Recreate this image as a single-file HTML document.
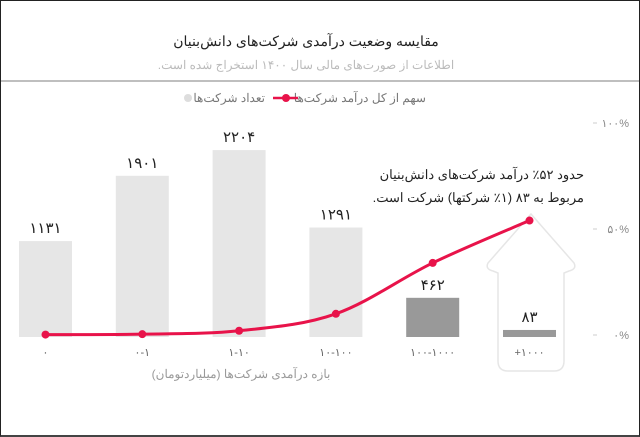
<!DOCTYPE html>
<html><head><meta charset="utf-8">
<style>
html,body{margin:0;padding:0;background:#fff;}
#frame{position:relative;width:638px;height:434px;border:1px solid #222;border-bottom:2px solid #444;overflow:hidden;font-family:"Liberation Sans","Noto Sans CJK SC",sans-serif;}
svg text{font-family:"Liberation Sans","Noto Sans CJK SC",sans-serif;}
</style></head>
<body>
<div id="frame">
<svg id="chart" width="638" height="434">
  <text x="305" y="45" text-anchor="middle" font-size="14" fill="#222" direction="rtl">مقایسه وضعیت درآمدی شرکت‌های دانش‌بنیان</text>
  <text x="305" y="68" text-anchor="middle" font-size="12" fill="#bbb" direction="rtl">اطلاعات از صورت‌های مالی سال ۱۴۰۰ استخراج شده است.</text>
  <line x1="0" y1="80" x2="638" y2="80" stroke="#aaa" stroke-width="1.5"/>
  <g>
    <text x="425" y="101" text-anchor="start" font-size="12" fill="#777" direction="rtl">سهم از کل درآمد شرکت‌ها</text>
    <line x1="272" y1="97" x2="297" y2="97" stroke="#e8134a" stroke-width="2.5"/>
    <circle cx="285" cy="97" r="4" fill="#e8134a"/>
    <text x="264" y="101" text-anchor="start" font-size="12" fill="#777" direction="rtl">تعداد شرکت‌ها</text>
    <circle cx="187" cy="97" r="4" fill="#ddd"/>
  </g>
  <path d="M530,213 L573,262 Q576,268 568,270 L563,272 L563,360 Q563,370 553,370 L507,370 Q497,370 497,360 L497,272 L492,270 Q484,268 487,262 Z" fill="none" stroke="#e6e6e6" stroke-width="1.5"/>
  <text x="583" y="178" text-anchor="start" font-size="13" fill="#222" direction="rtl">حدود ۵۲٪ درآمد شرکت‌های دانش‌بنیان</text>
  <text x="583" y="201" text-anchor="start" font-size="13" fill="#222" direction="rtl">مربوط به ۸۳ (۱٪ شرکتها) شرکت است.</text>
  <g id="yaxis"></g>
  <g id="bars"></g>
  <g id="line"></g>
  <text x="240" y="377" text-anchor="middle" font-size="12" fill="#999" direction="rtl">بازه درآمدی شرکت‌ها (میلیاردتومان)</text>
</svg>
</div>
<script>
const categories = ["۰","۰-۱","۱-۱۰","۱۰-۱۰۰","۱۰۰-۱۰۰۰","+۱۰۰۰"];
const counts = [1131,1901,2204,1291,462,83];
const countLabels = ["۱۱۳۱","۱۹۰۱","۲۲۰۴","۱۲۹۱","۴۶۲","۸۳"];
const shares = [0.2,0.4,2,10,34,54];
const yTicks = [0,50,100];
const yTickLabels = ["۰%","۵۰%","۱۰۰%"];
const highlight = [false,false,false,false,true,true];

const NS="http://www.w3.org/2000/svg";
const baseY=336, pxPerCount=0.0848;
const pctZero=334, pxPerPct=2.12;
const x0=44.5, step=96.8, barW=53;
const xC=i=>x0+i*step;
const yCount=v=>baseY-v*pxPerCount;
const yPct=v=>pctZero-v*pxPerPct;
function mk(t,a,p){const e=document.createElementNS(NS,t);for(const k in a)e.setAttribute(k,a[k]);p.appendChild(e);return e;}

const ya=document.getElementById('yaxis');
yTicks.forEach((t,i)=>{
  const l=mk('line',{x1:592,x2:596,y1:yPct(t),y2:yPct(t),stroke:'#ccc'},ya);
  
  
  const tx=mk('text',{x:628,y:yPct(t)+4,'text-anchor':'end','font-size':11,fill:'#888',direction:'ltr'},ya);
  tx.textContent=yTickLabels[i];
  
  
});

const bg=document.getElementById('bars');
counts.forEach((v,i)=>{
  const r=mk('rect',{x:xC(i)-barW/2,y:yCount(v),width:barW,height:baseY-yCount(v),fill:highlight[i]?'#999':'#e6e6e6'},bg);
  
  
  const t=mk('text',{x:xC(i),y:yCount(v)-8,'text-anchor':'middle','font-size':15,fill:'#222'},bg);
  t.textContent=countLabels[i];
  
  
  const c=mk('text',{x:xC(i),y:355,'text-anchor':'middle','font-size':11,fill:'#666',direction:'ltr'},bg);
  c.textContent=categories[i];
  
  
});

const lg=document.getElementById('line');
const pts=shares.map((v,i)=>[xC(i),yPct(v)]);
let d='M'+pts[0][0]+','+pts[0][1];
for(let i=0;i<pts.length-1;i++){
  const p0=pts[Math.max(0,i-1)],p1=pts[i],p2=pts[i+1],p3=pts[Math.min(pts.length-1,i+2)];
  const c1=[p1[0]+(p2[0]-p0[0])/6,p1[1]+(p2[1]-p0[1])/6];
  const c2=[p2[0]-(p3[0]-p1[0])/6,p2[1]-(p3[1]-p1[1])/6];
  d+=` C${c1[0]},${c1[1]} ${c2[0]},${c2[1]} ${p2[0]},${p2[1]}`;
}
const path=mk('path',{d:d,fill:'none',stroke:'#e8134a','stroke-width':3},lg);


pts.forEach(p=>{
  const c=mk('circle',{cx:p[0],cy:p[1],r:4,fill:'#e8134a'},lg);
  
  
});
</script>
</body></html>
